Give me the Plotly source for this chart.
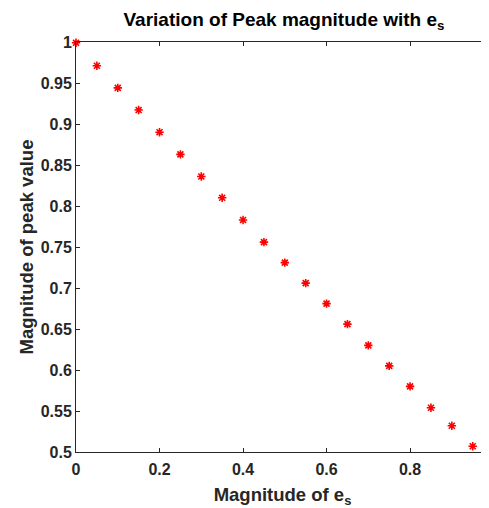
import plotly.graph_objects as go

es_values = [0.0, 0.05, 0.10, 0.15, 0.20, 0.25, 0.30, 0.35, 0.40, 0.45,
             0.50, 0.55, 0.60, 0.65, 0.70, 0.75, 0.80, 0.85, 0.90, 0.95]
peak_values = [0.999, 0.971, 0.944, 0.917, 0.890, 0.863, 0.836, 0.810, 0.783, 0.756,
               0.731, 0.706, 0.681, 0.656, 0.630, 0.605, 0.580, 0.554, 0.532, 0.507]
x_ticks = [0, 0.2, 0.4, 0.6, 0.8]
x_tick_labels = ["0", "0.2", "0.4", "0.6", "0.8"]
y_ticks = [0.5, 0.55, 0.6, 0.65, 0.7, 0.75, 0.8, 0.85, 0.9, 0.95, 1]
y_tick_labels = ["0.5", "0.55", "0.6", "0.65", "0.7", "0.75", "0.8", "0.85", "0.9", "0.95", "1"]

axis_color = "#262626"
font_family = "Liberation Sans, Arial, sans-serif"

# The page body has an 8px default margin, so the figure is sized to fit the window.
W, H = 481, 500
L, T, B = 68, 34, 56

fig = go.Figure(go.Scatter(
    x=es_values, y=peak_values, mode="markers",
    marker=dict(symbol="asterisk", size=7, color="red",
                line=dict(color="red", width=1.6)),
    cliponaxis=False,
))

fig.update_layout(
    width=W, height=H,
    margin=dict(l=L, r=0, t=T, b=B),
    paper_bgcolor="white", plot_bgcolor="white",
    showlegend=False,
    font=dict(family=font_family, color=axis_color),
    title=dict(text="<b>Variation of Peak magnitude with e<sub>s</sub></b>",
               x=276 / W, xanchor="center", y=1 - 11 / H, yanchor="middle",
               font=dict(size=19, color="black", family=font_family)),
)

fig.update_xaxes(
    range=[0, 0.989], tickvals=x_ticks, ticktext=x_tick_labels,
    ticks="inside", ticklen=4, tickcolor=axis_color, tickwidth=1,
    showline=True, linecolor=axis_color, linewidth=1, mirror="ticks",
    showgrid=False, zeroline=False, automargin=False, ticklabelstandoff=3,
    tickfont=dict(size=16, family=font_family, color=axis_color, weight="bold"),
    title=dict(text="<b>Magnitude of e<sub>s</sub></b>", standoff=10,
               font=dict(size=18.5, family=font_family, color=axis_color)),
)
fig.update_yaxes(
    range=[0.5, 1], tickvals=y_ticks, ticktext=y_tick_labels,
    ticks="inside", ticklen=4, tickcolor=axis_color, tickwidth=1,
    showline=True, linecolor=axis_color, linewidth=1, mirror="ticks",
    showgrid=False, zeroline=False, automargin=False,
    tickfont=dict(size=16, family=font_family, color=axis_color, weight="bold"),
    title=dict(text="<b>Magnitude of peak value</b>", standoff=2,
               font=dict(size=18.5, family=font_family, color=axis_color)),
)

fig.write_html("out.html")
